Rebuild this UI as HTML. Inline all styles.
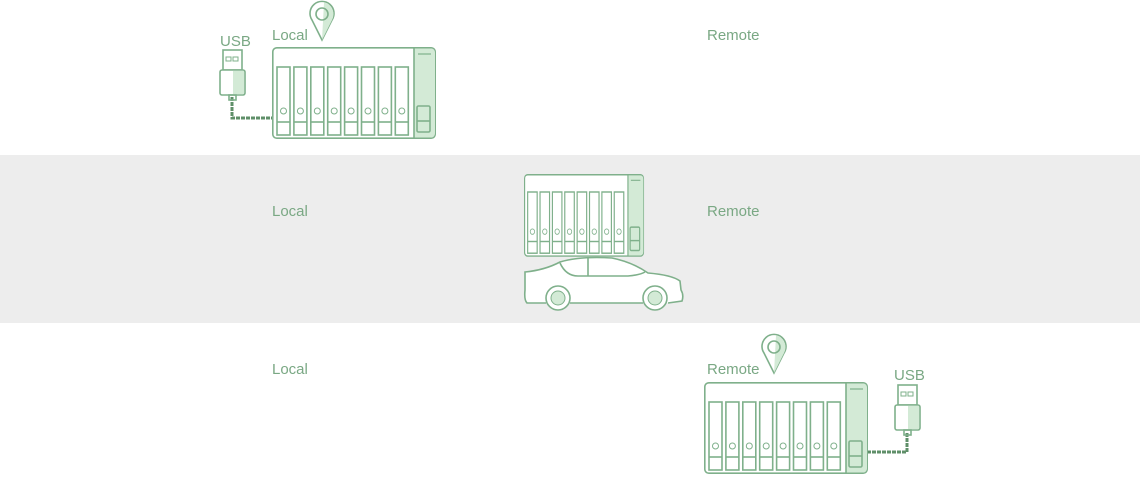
<!DOCTYPE html>
<html><head><meta charset="utf-8"><style>
html,body{margin:0;padding:0;background:#fff}
body{width:1140px;height:485px;overflow:hidden}
svg{display:block}
text{font-family:"Liberation Sans",sans-serif;fill:#7aa884;font-size:15px}
</style></head><body>
<svg width="1140" height="485" viewBox="0 0 1140 485" xmlns="http://www.w3.org/2000/svg">
<defs>
<g id="nas" stroke="#7fb08b" stroke-width="1.6" fill="none">
  <rect x="0.8" y="0.8" width="162.4" height="90.4" rx="4" fill="#fff"/>
  <path d="M142,1.5 H159 a4,4 0 0 1 4,4 V86.5 a4,4 0 0 1 -4,4 H142 Z" fill="#d3ead6" stroke="none"/>
  <line x1="142" y1="1" x2="142" y2="91"/>
  <g id="bay"><rect x="5" y="20" width="13" height="68"/><line x1="5" y1="75" x2="18" y2="75"/><circle cx="11.5" cy="64" r="3" stroke-width="1"/></g>
  <use href="#bay" x="16.9"/><use href="#bay" x="33.8"/><use href="#bay" x="50.7"/>
  <use href="#bay" x="67.6"/><use href="#bay" x="84.5"/><use href="#bay" x="101.4"/><use href="#bay" x="118.3"/>
  <rect x="145" y="59" width="13" height="26" rx="1.5"/><line x1="145" y1="74" x2="158" y2="74"/>
  <line x1="146" y1="7" x2="159" y2="7" stroke-width="1.2"/>
</g>
<g id="usb" stroke="#7fb08b" stroke-width="1.6" fill="none">
  <rect x="3" y="0" width="19" height="20" fill="#fff"/>
  <rect x="6" y="7" width="5" height="4" stroke-width="1"/><rect x="13" y="7" width="5" height="4" stroke-width="1"/>
  <rect x="0" y="20" width="25" height="25" rx="2" fill="#fff"/>
  <rect x="13" y="21" width="11" height="23" fill="#d3ead6" stroke="none"/>
  <rect x="9" y="45" width="7" height="5"/>
</g>
<g id="pin" stroke="#7fb08b" stroke-width="1.6" fill="none">
  <path d="M12,38 L2,18 A12,12 0 1 1 22,18 Z" fill="#fff"/>
  <path d="M12,38 L22,18 A12,12 0 0 0 14,0.5 L12,38Z" fill="#d3ead6" stroke="none"/>
  <circle cx="12" cy="12" r="6"/>
</g>
</defs>
<rect x="0" y="155" width="1140" height="168" fill="#ededed"/>

<!-- row 1 -->
<text x="272" y="40">Local</text>
<text x="707" y="40">Remote</text>
<text x="220" y="46" font-size="13">USB</text>
<use href="#pin" x="310" y="2"/>
<path d="M232,97 V118 H272" stroke="#5f8f69" stroke-width="3" fill="none" stroke-dasharray="4 1"/>
<use href="#usb" x="220" y="50"/>
<use href="#nas" x="272" y="47"/>

<!-- row 2 -->
<text x="272" y="216">Local</text>
<text x="707" y="216">Remote</text>
<g transform="translate(524,174) scale(0.732,0.9)"><use href="#nas"/></g>
<g stroke="#7fb08b" stroke-width="1.6" fill="none">
  <path d="M546,303 L527,303 Q524,300 525,290 L525,272 Q545,270 560,262 Q580,256 612,258 Q632,262 648,273 Q672,275 680,281 L681,290 Q684,295 682,301 L668,303 M643,303 L570,303" fill="#fff"/>
  <path d="M560,263 Q566,276 578,276 L628,276 Q640,275 645,272"/>
  <line x1="588" y1="258" x2="588" y2="276"/>
  <circle cx="558" cy="298" r="12" fill="#fff"/><circle cx="558" cy="298" r="7" fill="#d3ead6" stroke-width="1"/>
  <circle cx="655" cy="298" r="12" fill="#fff"/><circle cx="655" cy="298" r="7" fill="#d3ead6" stroke-width="1"/>
</g>

<!-- row 3 -->
<text x="272" y="374">Local</text>
<text x="707" y="374">Remote</text>
<text x="894" y="380" font-size="13">USB</text>
<use href="#pin" x="762" y="335"/>
<path d="M907,433 V452 H868" stroke="#5f8f69" stroke-width="3" fill="none" stroke-dasharray="4 1"/>
<use href="#usb" x="895" y="385"/>
<use href="#nas" x="704" y="382"/>
</svg>
</body></html>
